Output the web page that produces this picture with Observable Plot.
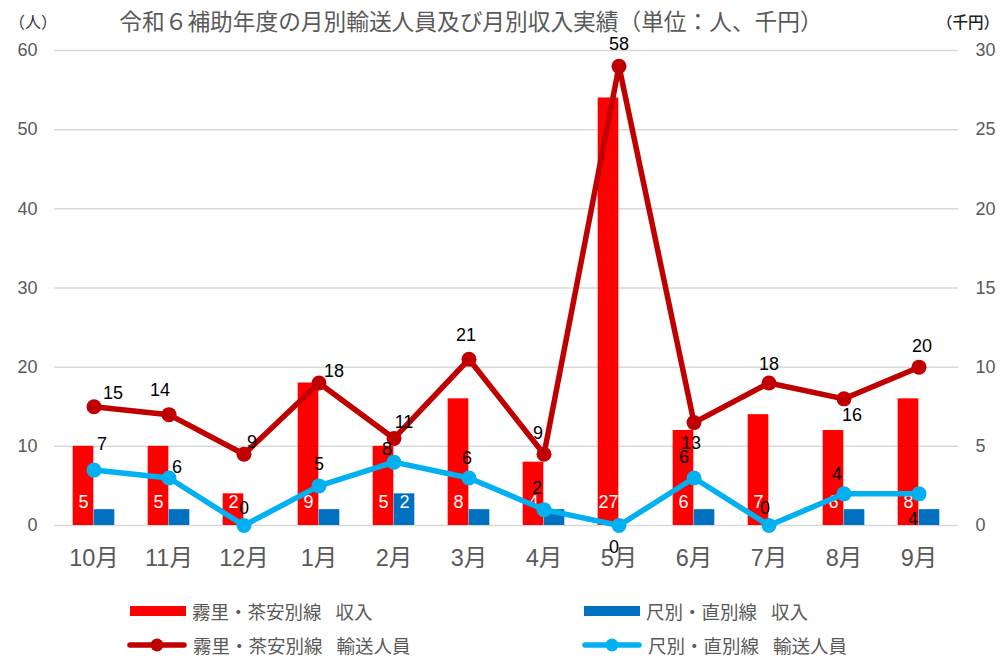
<!DOCTYPE html>
<html><head><meta charset="utf-8">
<script src="https://cdn.jsdelivr.net/npm/d3@7"></script>
<script src="https://cdn.jsdelivr.net/npm/@observablehq/plot@0.6"></script>
<style>
body{margin:0;background:#fff;}
#wrap{position:relative;width:1000px;height:659px;overflow:hidden;font-family:"Liberation Sans","Noto Sans CJK JP",sans-serif;}
#chart{position:absolute;left:0;top:0;}
.abs{position:absolute;white-space:nowrap;}
#title{left:0;width:942px;top:6px;text-align:center;font-family:"Noto Sans CJK JP",sans-serif;font-size:22.7px;color:#595959;line-height:30px;}
#unitL{left:9px;top:8px;font-family:"Noto Sans CJK JP",sans-serif;font-size:16px;color:#333;line-height:26px;}
#unitR{left:937px;top:8px;font-family:"Noto Sans CJK JP",sans-serif;font-size:15.5px;color:#222;line-height:26px;font-weight:500;}
.leg{position:absolute;display:flex;align-items:center;font-family:"Noto Sans CJK JP",sans-serif;font-size:18.5px;color:#595959;height:18px;line-height:18px;}
.leg span{display:inline-block;height:18px;line-height:18px;overflow:visible;}
.leg svg{margin-right:6px;}
.leg .gap{width:14px;}
#chart svg g[aria-label="x-axis tick label"]{font-size:23.5px !important;}
#chart svg g[aria-label="y-axis tick label"]{font-size:18px !important;}
</style></head><body>
<div id="wrap">
  <div id="chart"></div>
  <div id="title" class="abs">令和６補助年度の月別輸送人員及び月別収入実績（単位：人、千円）</div>
  <div id="unitL" class="abs">（人）</div>
  <div id="unitR" class="abs">（千円）</div>
  <div id="legend"></div>
</div>
<script>
// ---- data ----
const months = ["10月","11月","12月","1月","2月","3月","4月","5月","6月","7月","8月","9月"];
const kiriRevenue = [5, 5, 2, 9, 5, 8, 4, 27, 6, 7, 6, 8];            // 千円 (right axis)
const shakuRevenue = [1, 1, 0, 1, 2, 1, 1, 0, 1, 0, 1, 1];            // 千円 (right axis)
const shakuRevenueLabels = [null, null, null, null, 2, null, null, null, null, null, null, null];
const kiriPassengers = [15, 14, 9, 18, 11, 21, 9, 58, 13, 18, 16, 20]; // 人 (left axis)
const shakuPassengers = [7, 6, 0, 5, 8, 6, 2, 0, 6, 0, 4, 4];          // 人 (left axis)
const leftTicks = [0, 10, 20, 30, 40, 50, 60];
const rightTicks = [0, 5, 10, 15, 20, 25, 30];
const lineNames = ["霧里・茶安別線", "尺別・直別線"];
const measureNames = ["収入", "輸送人員"];

// ---- label placement (offsets in px) ----
const kiriLabelOffset = [[19,-14],[-9,-24],[8,-12],[15,-12],[10,-16],[-3,-24],[-6,-21],[0,-22],[-3,21],[0,-19],[8,16],[3,-21]];
const shakuLabelOffset = [[8,-26],[8,-11],[0,-17],[0,-22],[-7,-13],[-2,-20],[-7,-21],[-5,22],[-10,-21],[-4,-17],[-7,-20],[-6,25]];

const axisRatio = leftTicks[leftTicks.length-1] / rightTicks[rightTicks.length-1];
const data = months.map((m, i) => ({m, kr: kiriRevenue[i], sr: shakuRevenue[i], srl: shakuRevenueLabels[i], kp: kiriPassengers[i], sp: shakuPassengers[i], i}));

const C = {redBar:"#FF0000", blueBar:"#0070C0", redLine:"#C00000", blueLine:"#00B0F0", grid:"#D9D9D9", text:"#595959"};
const W = 1000, mL = 54, mR = 42;
const bw = (W - mL - mR) / months.length;
const barW = 21;

const marks = [
  Plot.ruleY(leftTicks, {stroke: C.grid, strokeWidth: 1.5}),
  Plot.axisY(leftTicks, {anchor: "left", tickSize: 0, tickPadding: 17, fontSize: 18, fill: C.text, label: null}),
  Plot.axisY(leftTicks, {anchor: "right", tickSize: 0, tickPadding: 17, fontSize: 18, fill: C.text, label: null, textAnchor: "start",
    tickFormat: d => rightTicks[leftTicks.indexOf(d)]}),
  Plot.axisX({tickSize: 0, tickPadding: 24, fontSize: 23.5, fill: C.text, label: null}),
  Plot.barY(data, {x: "m", y: d => d.kr * axisRatio, fill: C.redBar, insetLeft: bw/2 - barW, insetRight: bw/2}),
  Plot.barY(data, {x: "m", y: d => d.sr * axisRatio, fill: C.blueBar, insetLeft: bw/2, insetRight: bw/2 - barW}),
  Plot.text(data, {x: "m", y: d => 0, text: d => d.kr, dx: -barW/2, dy: -23, fill: "white", fontSize: 18}),
  Plot.text(data.filter(d => d.srl != null), {x: "m", y: d => 0, text: d => d.srl, dx: barW/2, dy: -23, fill: "white", fontSize: 18}),
  Plot.line(data, {x: "m", y: "kp", stroke: C.redLine, strokeWidth: 5.5, strokeLinejoin: "round", strokeLinecap: "round"}),
  Plot.dot(data, {x: "m", y: "kp", r: 7.5, fill: C.redLine, stroke: "none"}),
  Plot.line(data, {x: "m", y: "sp", stroke: C.blueLine, strokeWidth: 5.5, strokeLinejoin: "round", strokeLinecap: "round"}),
  Plot.dot(data, {x: "m", y: "sp", r: 7.5, fill: C.blueLine, stroke: "none"}),
  ...data.map((d, i) => Plot.text([d], {x: "m", y: "kp", text: "kp", dx: kiriLabelOffset[i][0], dy: kiriLabelOffset[i][1], fill: "black", fontSize: 18})),
  ...data.map((d, i) => Plot.text([d], {x: "m", y: "sp", text: "sp", dx: shakuLabelOffset[i][0], dy: shakuLabelOffset[i][1], fill: "black", fontSize: 18}))
];

const chart = Plot.plot({
  width: W, height: 580,
  marginLeft: mL, marginRight: mR, marginTop: 50, marginBottom: 55,
  x: {domain: months, padding: 0, label: null},
  y: {domain: [0, 60], label: null},
  style: {fontFamily: '"Liberation Sans","Noto Sans CJK JP",sans-serif', background: "transparent", overflow: "visible"},
  marks
});
document.getElementById("chart").appendChild(chart);

// ---- legend ----
const legendItems = [
  {line: lineNames[0], measure: measureNames[0], kind: "bar", color: C.redBar, x: 130, y: 602},
  {line: lineNames[1], measure: measureNames[0], kind: "bar", color: C.blueBar, x: 584, y: 602},
  {line: lineNames[0], measure: measureNames[1], kind: "line", color: C.redLine, x: 127, y: 636},
  {line: lineNames[1], measure: measureNames[1], kind: "line", color: C.blueLine, x: 582, y: 636}
];
const leg = document.getElementById("legend");
legendItems.forEach(it => {
  const div = document.createElement("div");
  div.className = "leg";
  div.style.left = it.x + "px";
  div.style.top = it.y + "px";
  const sw = it.kind === "bar"
    ? `<svg width="56" height="12"><rect x="0" y="1" width="56" height="10" fill="${it.color}"/></svg>`
    : `<svg width="60" height="14"><line x1="3" y1="7" x2="57" y2="7" stroke="${it.color}" stroke-width="5.5" stroke-linecap="round"/><circle cx="30" cy="7" r="6.5" fill="${it.color}"/></svg>`;
  div.innerHTML = sw + `<span>${it.line}</span><span class="gap"></span><span>${it.measure}</span>`;
  leg.appendChild(div);
});
</script>
</body></html>
